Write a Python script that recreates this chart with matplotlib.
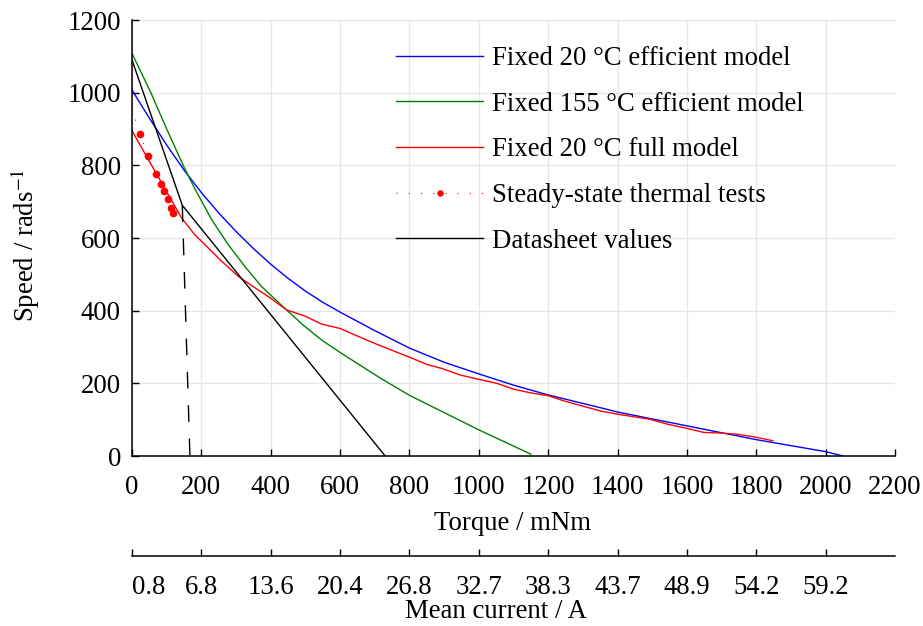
import matplotlib
matplotlib.use("Agg")
import matplotlib.pyplot as plt

plt.rcParams['font.family'] = ['Liberation Serif', 'DejaVu Serif']
plt.rcParams['mathtext.fontset'] = 'stix'
plt.rcParams['font.size'] = 19.3

# --- data (torque in mNm, speed in rad/s) ---
eff20_torque = [0, 50, 100, 150, 200, 250, 300, 350, 400, 450, 500, 550, 600, 700, 800, 900,
                1000, 1100, 1200, 1350, 1400, 1600, 1800, 2000, 2050]
eff20_speed = [1007, 930, 856, 787, 725, 669, 618, 571, 528, 489, 454, 423, 396, 345, 297, 258,
               226, 195, 168, 133, 121, 83, 45, 12, 0]

eff155_torque = [0, 52, 100, 150, 182, 230, 278, 326, 374, 441, 494, 547, 600, 715, 800, 1000, 1150]
eff155_speed = [1108, 1005, 900, 795, 734, 650, 581, 521, 466, 406, 360, 319, 285, 215, 167, 72, 5]

full20_torque = [0, 143, 182, 211, 254, 307, 350, 400, 446, 499, 547, 600, 677, 715, 800, 850, 893,
                 946, 1000, 1052, 1100, 1148, 1200, 1244, 1350, 1400, 1494, 1542, 1600, 1648,
                 1700, 1744, 1792, 1848]
full20_speed = [895, 655, 608, 581, 540, 494, 466, 434, 402, 385, 363, 351, 319, 304, 272, 252, 241,
                223, 211, 200, 184, 174, 166, 152, 124, 115, 101, 88, 76, 65,
                63, 60, 53, 42]

test_torque = [0, 23, 47, 68, 83, 92, 103, 112, 119]
test_speed = [958, 885, 827, 775, 748, 730, 707, 683, 668]

sheet_torque = [0, 145, 730]
sheet_speed = [1090, 690, 0]
sheet_dash_torque = [145, 167]
sheet_dash_speed = [690, 0]

torque_ticks = [0, 200, 400, 600, 800, 1000, 1200, 1400, 1600, 1800, 2000, 2200]
current_ticks = [0, 200, 400, 600, 800, 1000, 1200, 1400, 1600, 1800, 2000]
current_labels = ['0.8', '6.8', '13.6', '20.4', '26.8', '32.7', '38.3', '43.7', '48.9', '54.2', '59.2']

W, H = 923, 626
fig = plt.figure(figsize=(W / 100, H / 100), dpi=100)
left, right, top, bottom = 132, 895, 20, 456
ax = fig.add_axes([left / W, 1 - bottom / H, (right - left) / W, (bottom - top) / H])

ax.plot(eff20_torque, eff20_speed, color='blue', lw=1.0, label='Fixed 20 \u00b0C efficient model')
ax.plot(eff155_torque, eff155_speed, color='green', lw=1.0, label='Fixed 155 \u00b0C efficient model')
ax.plot(full20_torque, full20_speed, color='red', lw=1.0, label='Fixed 20 \u00b0C full model')
ax.plot(test_torque, test_speed, color='red', lw=0.8, ls=(0, (1, 10)), marker='o', ms=4.5,
        markevery=slice(1, None), label='Steady-state thermal tests')
ax.plot(sheet_torque, sheet_speed, color='black', lw=1.0, label='Datasheet values')
ax.plot(sheet_dash_torque, sheet_dash_speed, color='black', lw=1.0, dashes=(12, 12))

ax.set_xlim(0, 2200)
ax.set_ylim(0, 1200)
ax.set_xticks(torque_ticks)
ax.set_yticks(range(0, 1201, 200))
ax.grid(True, color='#e6e6e6', lw=1.0)
ax.set_axisbelow(True)
for s in ['top', 'right']:
    ax.spines[s].set_visible(False)
for s in ['left', 'bottom']:
    ax.spines[s].set_linewidth(1.1)
ax.tick_params(direction='in', length=5, width=1.0)
ax.tick_params(axis='x', pad=14)
ax.tick_params(axis='y', pad=8)

ax.set_xlabel('Torque / mNm')
ax.xaxis.set_label_coords(513 / W, 1 - 523 / H, transform=fig.transFigure)
ax.xaxis.label.set_va('center')
ax.set_ylabel('Speed / rads$^{-1}$')
ax.yaxis.set_label_coords(25 / W, 1 - 245 / H, transform=fig.transFigure)
ax.yaxis.label.set_va('center')

leg = ax.legend(loc='upper left', bbox_to_anchor=(0.346, 0.94), frameon=False,
                handlelength=3.25, handletextpad=0.35, labelspacing=0.77,
                borderpad=0, borderaxespad=0, markerscale=0.8)

# secondary current axis
ax2 = fig.add_axes([left / W, 1 - 556 / H, (right - left) / W, 0.001])
ax2.set_xlim(0, 2200)
ax2.set_facecolor('none')
for s in ['top', 'right', 'left']:
    ax2.spines[s].set_visible(False)
ax2.spines['bottom'].set_linewidth(1.1)
ax2.set_yticks([])
ax2.set_xticks(current_ticks)
ax2.set_xticklabels(current_labels)
ax2.get_xticklabels()[0].set_ha('left')
ax2.tick_params(axis='x', direction='in', length=5, width=1.0, pad=14)
ax2.set_xlabel('Mean current / A')
ax2.xaxis.set_label_coords(496 / W, 1 - 612 / H, transform=fig.transFigure)
ax2.xaxis.label.set_va('center')

fig.savefig('out.png', dpi=100)
